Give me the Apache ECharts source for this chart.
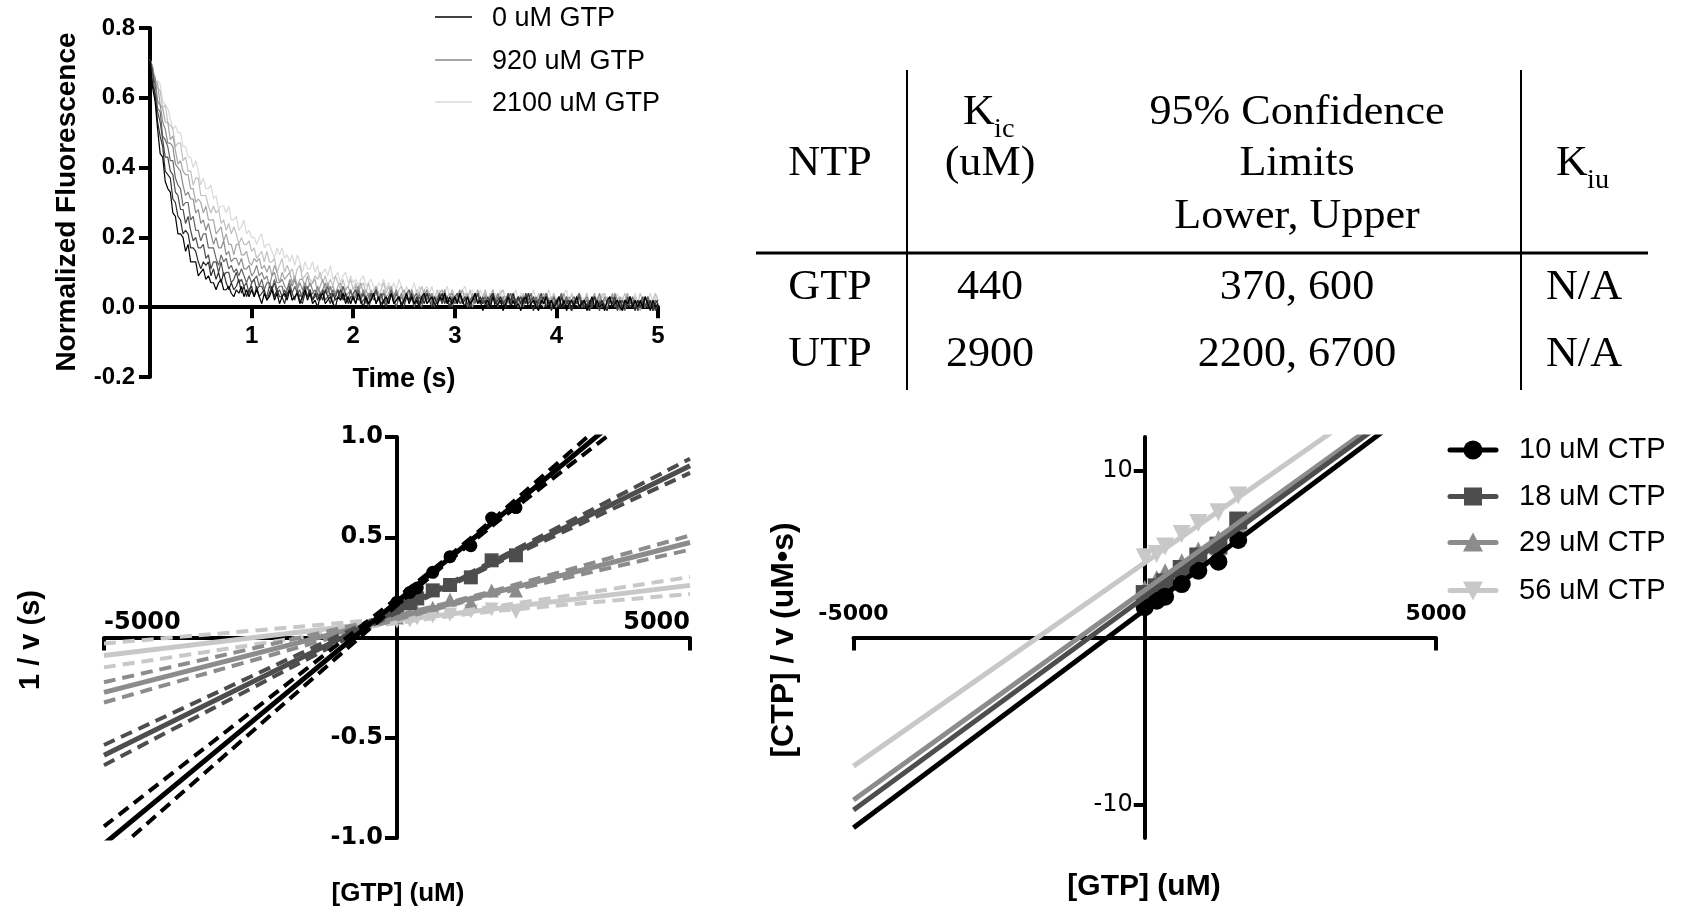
<!DOCTYPE html>
<html>
<head>
<meta charset="utf-8">
<title>GTP inhibition of CTP-dependent fluorescence decay</title>
<script src="https://cdn.jsdelivr.net/npm/echarts@6.0.0/dist/echarts.min.js"></script>
<style>
  html, body { margin: 0; padding: 0; background: #ffffff; }
  #chart { width: 1688px; height: 916px; }
</style>
</head>
<body>
<div id="chart"></div>
<script>
// ---------- Stopped-flow traces (normalized fluorescence, in hundredths), one sample every 0.025 s ----------
const SAMPLE_STEP_S = 0.025;
const traceNames = ['0 uM GTP', '230 uM GTP', '360 uM GTP', '620 uM GTP', '920 uM GTP', '1300 uM GTP', '1660 uM GTP', '2100 uM GTP'];
const trace0uM = [
  71,63,59,51,44,43,36,34,33,27,26,21,21,20,16,18,13,13,13,9,
  10,11,8,9,7,7,5,7,8,5,5,6,4,3,5,4,6,3,5,3,
  5,3,5,3,1,4,2,3,5,2,4,1,3,4,2,5,2,3,4,1,
  3,5,2,4,1,2,0,3,4,1,2,3,1,0,3,2,4,1,3,1,
  3,1,4,2,0,3,1,2,4,1,3,0,2,3,1,4,1,2,3,0,
  2,4,1,3,1,2,0,3,4,1,2,3,1,0,3,2,4,1,3,1,
  3,1,4,2,0,3,1,2,4,1,2,-1,1,2,0,3,0,1,2,-1,
  1,3,0,2,0,1,-1,2,3,0,1,2,0,-1,2,1,3,0,2,0,
  1,3,0,2,-1,1,2,0,3,0,1,2,-1,1,3,0,2,0,1,-1,
  2,3,0,1,2,0,-1,2,1,3,0,2,0,2,0,3,1,-1,2,0, 1];
const trace230uM = [
  71,64,61,53,49,46,39,38,37,31,30,26,25,21,22,21,17,17,16,13,
  11,13,12,13,9,11,8,10,7,10,7,5,7,5,6,8,4,6,3,5,
  6,3,6,3,4,5,2,4,6,3,5,3,3,1,4,5,2,3,4,2,
  1,4,3,5,2,4,2,4,2,5,3,1,4,2,3,5,2,4,1,3,
  3,1,4,1,2,3,0,2,4,1,3,1,2,0,3,4,1,2,3,1,
  0,3,2,4,1,3,1,3,1,4,2,0,3,1,2,4,1,3,0,2,
  3,1,4,1,2,3,0,2,4,1,3,1,2,0,3,4,1,2,3,1,
  0,3,2,4,1,3,1,3,1,4,1,-1,2,0,1,3,0,2,-1,1,
  2,0,3,0,1,2,-1,1,3,0,2,0,1,-1,2,3,0,1,2,0,
  -1,2,1,3,0,2,0,2,0,3,1,-1,2,0,1,3,0,2,-1,1, 2];
const trace360uM = [
  71,68,60,56,53,48,43,43,39,38,33,32,28,28,24,26,22,19,20,17,
  17,18,14,15,11,13,13,10,13,9,10,10,7,8,10,7,8,6,7,4,
  7,8,5,6,6,4,3,6,5,7,4,5,3,5,3,6,4,2,5,3,
  4,6,3,5,2,3,4,2,5,2,3,4,1,3,5,2,4,2,3,1,
  4,5,2,3,4,2,1,4,3,5,2,4,1,3,1,4,2,0,3,1,
  2,4,1,3,0,2,3,1,4,1,2,3,0,2,4,1,3,1,2,0,
  3,4,1,2,3,1,0,3,2,4,1,3,1,3,1,4,2,0,3,1,
  2,4,1,3,0,2,3,1,4,1,2,3,0,2,4,1,3,1,2,0,
  2,3,0,1,2,0,-1,2,1,3,0,2,0,2,0,3,1,-1,2,0,
  1,3,0,2,-1,1,2,0,3,0,1,2,-1,1,3,0,2,0,1,-1, 1];
const trace620uM = [
  71,67,64,57,56,49,48,46,42,42,37,35,34,29,30,30,25,26,22,22,
  19,21,21,17,17,17,14,12,15,13,14,11,12,10,11,9,11,9,7,9,
  7,8,9,6,8,5,7,7,5,8,5,6,6,3,5,7,4,6,4,5,
  2,5,6,3,4,5,3,2,5,4,6,3,5,3,5,3,6,4,2,5,
  2,3,5,2,4,1,3,4,2,5,2,3,4,1,3,5,2,4,2,3,
  1,4,5,2,3,4,1,0,3,2,4,1,3,1,3,1,4,2,0,3,
  1,2,4,1,3,0,2,3,1,4,1,2,3,0,2,4,1,3,1,2,
  0,3,4,1,2,3,1,0,3,2,4,1,3,1,3,1,4,2,0,3,
  1,2,4,1,3,0,2,3,1,4,0,1,2,-1,1,3,0,2,0,1,
  -1,2,3,0,1,2,0,-1,2,1,3,0,2,0,2,0,3,1,-1,2, 1];
const trace920uM = [
  71,67,66,59,58,53,51,47,47,46,41,40,39,35,32,33,31,31,27,28,
  24,25,22,24,21,18,20,17,17,19,15,16,13,14,14,12,14,11,11,12,
  9,10,12,9,10,8,9,6,9,10,7,7,8,6,5,8,6,8,5,7,
  5,7,5,7,5,3,6,4,5,7,4,6,3,4,5,3,6,3,4,5,
  2,4,6,3,5,3,4,2,4,5,2,3,4,2,1,4,3,5,2,4,
  2,4,2,5,3,1,4,2,3,5,2,4,1,3,4,2,5,2,3,4,
  1,3,5,1,3,1,2,0,3,4,1,2,3,1,0,3,2,4,1,3,
  1,3,1,4,2,0,3,1,2,4,1,3,0,2,3,1,4,1,2,3,
  0,2,4,1,3,1,2,0,3,4,1,2,3,1,0,3,2,4,1,3,
  1,3,1,4,2,-1,2,0,1,3,0,2,-1,1,2,0,3,0,1,2, 1];
const trace1300uM = [
  71,69,65,64,58,57,53,53,48,49,45,41,42,39,38,38,34,34,30,31,
  30,27,29,25,25,25,21,22,23,19,21,18,18,15,18,18,15,15,16,13,
  12,14,13,14,11,12,10,12,9,12,10,7,10,8,9,10,7,9,6,8,
  8,6,9,6,7,8,4,6,8,5,7,5,6,4,6,7,4,5,6,4,
  3,6,5,7,4,5,3,5,3,6,4,2,5,3,4,6,3,5,2,4,
  5,2,5,2,3,4,1,3,5,2,4,2,3,1,4,5,2,3,4,2,
  1,4,3,5,2,4,2,4,2,5,3,1,4,2,3,5,2,4,1,3,
  3,1,4,1,2,3,0,2,4,1,3,1,2,0,3,4,1,2,3,1,
  0,3,2,4,1,3,1,3,1,4,2,0,3,1,2,4,1,3,0,2,
  3,1,4,1,2,3,0,2,4,1,2,0,1,-1,2,3,0,1,2,0, 1];
const trace1660uM = [
  71,69,64,63,62,57,58,53,52,51,46,47,47,42,43,39,39,35,37,37,
  32,32,32,29,27,29,27,28,24,25,22,24,21,23,21,18,20,18,18,19,
  16,17,14,15,16,13,16,13,13,14,10,12,14,10,12,10,11,8,11,12,
  8,9,10,8,7,9,8,10,7,9,6,8,6,9,7,5,8,5,6,8,
  5,7,4,6,7,4,7,4,5,6,3,5,7,4,6,4,4,2,5,6,
  3,4,5,3,2,5,4,6,3,5,3,4,2,5,3,1,4,2,3,5,
  2,4,1,3,4,2,5,2,3,4,1,3,5,2,4,2,3,1,4,5,
  2,3,4,2,1,3,2,4,1,3,1,3,1,4,2,0,3,1,2,4,
  1,3,0,2,3,1,4,1,2,3,0,2,4,1,3,1,2,0,3,4,
  1,2,3,1,0,3,2,4,1,3,1,3,1,4,2,0,3,1,2,4, 2];
const trace2100uM = [
  71,69,64,65,64,59,58,57,54,51,52,50,50,46,46,43,43,40,42,39,
  35,37,34,34,35,31,32,28,29,29,27,29,25,25,26,22,23,25,21,22,
  20,20,18,20,21,17,18,18,16,14,17,15,17,14,15,13,15,12,15,13,
  10,13,11,11,13,10,12,8,10,11,9,12,8,9,10,7,9,10,7,9,
  7,8,6,8,9,6,7,8,6,5,7,6,8,5,7,5,7,5,8,6,
  3,6,4,5,7,4,6,3,5,6,4,6,3,4,5,2,4,6,3,5,
  3,4,2,5,6,3,4,5,3,2,5,3,5,2,4,2,4,2,5,3,
  1,4,2,3,5,2,4,1,3,4,2,5,2,3,4,1,3,5,2,4,
  2,3,1,4,5,1,2,3,1,0,3,2,4,1,3,1,3,1,4,2,
  0,3,1,2,4,1,3,0,2,3,1,4,1,2,3,0,2,4,1,3, 2];
const traceValues = [trace0uM, trace230uM, trace360uM, trace620uM, trace920uM, trace1300uM, trace1660uM, trace2100uM];
const traceLegendNames = ['0 uM GTP', '920 uM GTP', '2100 uM GTP'];

// ---------- 1/v vs [GTP] ----------
const ctpNames = ['10 uM CTP', '18 uM CTP', '29 uM CTP', '56 uM CTP'];
const gtpInv = [0, 220, 345, 610, 905, 1260, 1615, 2030];
const invV10 = [0.176, 0.225, 0.247, 0.325, 0.403, 0.458, 0.596, 0.648];
const invV18 = [0.140, 0.170, 0.195, 0.235, 0.262, 0.300, 0.385, 0.410];
const invV29 = [0.100, 0.115, 0.130, 0.148, 0.190, 0.176, 0.235, 0.234];
const invV56 = [0.080, 0.085, 0.095, 0.105, 0.115, 0.130, 0.140, 0.126];
// fitted lines, value at each end of the [GTP] axis
const fitEnds = [-5000, 5000];
const invFit10 = [-1.030, 1.388];
const invFit18 = [-0.587, 0.857];
const invFit29 = [-0.274, 0.474];
const invFit56 = [-0.090, 0.260];
// 95% confidence bands of the fits
const bandGtp = [-5000, -3750, -2500, -1250, 0, 1250, 2500, 3750, 5000];
const invUpper10 = [-0.942, -0.658, -0.374, -0.089, 0.197, 0.494, 0.809, 1.129, 1.450];
const invLower10 = [-1.117, -0.796, -0.476, -0.157, 0.161, 0.468, 0.757, 1.041, 1.327];
const invUpper18 = [-0.536, -0.366, -0.196, -0.025, 0.146, 0.324, 0.512, 0.702, 0.892];
const invLower18 = [-0.637, -0.446, -0.256, -0.065, 0.124, 0.307, 0.480, 0.651, 0.821];
const invUpper29 = [-0.223, -0.140, -0.057, 0.027, 0.111, 0.202, 0.303, 0.406, 0.509];
const invLower29 = [-0.324, -0.220, -0.117, -0.013, 0.089, 0.185, 0.271, 0.355, 0.438];
const invUpper56 = [-0.030, 0.002, 0.033, 0.065, 0.099, 0.139, 0.191, 0.246, 0.302];
const invLower56 = [-0.149, -0.094, -0.038, 0.018, 0.072, 0.118, 0.153, 0.186, 0.217];

// ---------- [CTP]/v vs [GTP] ----------
const gtpCb = [0, 205, 350, 635, 920, 1265, 1605];
const ctpV10 = [1.81, 2.20, 2.44, 3.20, 4.00, 4.54, 5.84];
const ctpV18 = [2.60, 3.00, 3.30, 4.10, 4.85, 5.50, 7.00];
const ctpV29 = [2.90, 3.50, 3.90, 4.50, 5.20, 5.90, 6.70];
const ctpV56 = [4.80, 5.00, 5.45, 6.20, 6.85, 7.50, 8.50];
const cbFit10 = [-11.39, 14.71];
const cbFit18 = [-10.33, 15.17];
const cbFit29 = [-9.72, 15.38];
const cbFit56 = [-7.70, 16.65];

// ---------- Inhibition constants table ----------
const tableHead = ['NTP', '(uM)', 'Limits', 'Lower, Upper', '95% Confidence'];
const tableRows = [
  ['GTP', '440', '370, 600', 'N/A'],
  ['UTP', '2900', '2200, 6700', 'N/A']
];

// ---------- styling ----------
const SANS = "'Liberation Sans', Arial, Helvetica, sans-serif";
const WIDE = "'DejaVu Sans', Verdana, sans-serif";
const SERIF = "'Liberation Serif', 'Times New Roman', serif";
const traceColors = ['#000000', '#2e2e2e', '#4a4a4a', '#666666', '#8a8a8a', '#a6a6a6', '#c0c0c0', '#d9d9d9'];
const ctpColors = ['#000000', '#4d4d4d', '#8c8c8c', '#c8c8c8'];
const ctpSymbols = ['circle', 'rect', 'triangle', 'triangle'];
const ctpRotate = [0, 0, 0, 180];

const pairs = (xs, ys) => xs.map((x, i) => [x, ys[i]]);
const series = [];

// decay traces, lightest first so the darker ones sit on top
for (let k = traceValues.length - 1; k >= 0; k--) {
  series.push({
    name: traceNames[k], type: 'line', xAxisIndex: 0, yAxisIndex: 0,
    data: traceValues[k].map((v, i) => [i * SAMPLE_STEP_S, v / 100]),
    showSymbol: false, symbol: 'none', silent: true,
    lineStyle: { color: traceColors[k], width: 1.2 },
    itemStyle: { color: traceColors[k] }
  });
}

const invPoints = [invV10, invV18, invV29, invV56];
const invFits = [invFit10, invFit18, invFit29, invFit56];
const invUppers = [invUpper10, invUpper18, invUpper29, invUpper56];
const invLowers = [invLower10, invLower18, invLower29, invLower56];
for (let k = 3; k >= 0; k--) {
  const c = ctpColors[k];
  [invUppers[k], invLowers[k]].forEach(b => series.push({
    type: 'line', xAxisIndex: 1, yAxisIndex: 1, data: pairs(bandGtp, b),
    smooth: true, showSymbol: false, symbol: 'none', silent: true,
    lineStyle: { color: c, width: 4, type: [12, 7] }
  }));
  series.push({
    type: 'line', xAxisIndex: 1, yAxisIndex: 1, data: pairs(fitEnds, invFits[k]),
    showSymbol: false, symbol: 'none', silent: true,
    lineStyle: { color: c, width: 5 }
  });
  series.push({
    name: ctpNames[k], type: 'scatter', xAxisIndex: 1, yAxisIndex: 1, data: pairs(gtpInv, invPoints[k]),
    symbol: ctpSymbols[k], symbolRotate: ctpRotate[k], symbolSize: k === 0 ? 13 : 14,
    itemStyle: { color: c, opacity: 1 }, silent: true
  });
}

const cbPoints = [ctpV10, ctpV18, ctpV29, ctpV56];
const cbFits = [cbFit10, cbFit18, cbFit29, cbFit56];
for (let k = 3; k >= 0; k--) {
  const c = ctpColors[k];
  series.push({
    type: 'line', xAxisIndex: 2, yAxisIndex: 2, data: pairs(fitEnds, cbFits[k]),
    showSymbol: false, symbol: 'none', silent: true,
    lineStyle: { color: c, width: 5 }
  });
  series.push({
    name: ctpNames[k], type: 'scatter', xAxisIndex: 2, yAxisIndex: 2, data: pairs(gtpCb, cbPoints[k]),
    symbol: ctpSymbols[k], symbolRotate: ctpRotate[k], symbolSize: 18,
    itemStyle: { color: c, opacity: 1 }, silent: true
  });
}

const axisLine = { onZero: false, lineStyle: { color: '#000', width: 4 } };
const tick = len => ({ length: len, lineStyle: { color: '#000', width: 4 } });
const label = (family, size, weight, margin, extra) => Object.assign({
  color: '#000', fontFamily: family, fontWeight: weight, fontSize: size, margin: margin
}, extra || {});
const hideZero = v => (Math.abs(v) < 1e-9 ? '' : String(v));

// ---------- drawn text / table / legends ----------
const g = [];
const txt = (s, x, y, o) => g.push(Object.assign({
  type: 'text', x: x, y: y,
  style: Object.assign({
    text: s, fill: '#000', fontFamily: SANS, fontSize: 24, fontWeight: 'bold',
    align: 'center', verticalAlign: 'middle', textAlign: 'center', textVerticalAlign: 'middle'
  }, o && o.style)
}, o && o.el));

// axis titles
txt('Normalized Fluorescence', 67, 202, { el: { rotation: Math.PI / 2 }, style: { fontSize: 28 } });
txt('Time (s)', 404, 380, { style: { fontSize: 27 } });
txt('1 / v (s)', 31, 640, { el: { rotation: Math.PI / 2 }, style: { fontSize: 29 } });
txt('[GTP] (uM)', 398, 894, { style: { fontSize: 26 } });
txt('[CTP] / v (uM\u2022s)', 784, 640, { el: { rotation: Math.PI / 2 }, style: { fontSize: 32 } });
txt('[GTP] (uM)', 1144, 887, { style: { fontSize: 30 } });

// trace legend
const tlY = [17, 60, 102];
const tlColors = ['#000000', '#8a8a8a', '#d9d9d9'];
traceLegendNames.forEach((n, i) => {
  g.push({ type: 'line', shape: { x1: 435, y1: tlY[i], x2: 472, y2: tlY[i] }, style: { stroke: tlColors[i], lineWidth: 1.5 } });
  txt(n, 492, tlY[i] + 2, { style: { fontSize: 27, fontWeight: 'normal', align: 'left', textAlign: 'left' } });
});

// CTP legend
const clY = [450, 496.5, 542.5, 590.5];
ctpNames.forEach((n, i) => {
  const c = ctpColors[i], y = clY[i], cx = 1473;
  g.push({ type: 'line', shape: { x1: 1450, y1: y, x2: 1496, y2: y }, style: { stroke: c, lineWidth: 5, lineCap: 'round' } });
  if (i === 0) g.push({ type: 'circle', shape: { cx: cx, cy: y, r: 9.5 }, style: { fill: c } });
  if (i === 1) g.push({ type: 'rect', shape: { x: cx - 9, y: y - 9, width: 18, height: 18 }, style: { fill: c } });
  if (i === 2) g.push({ type: 'polygon', shape: { points: [[cx, y - 10], [cx + 10, y + 9], [cx - 10, y + 9]] }, style: { fill: c } });
  if (i === 3) g.push({ type: 'polygon', shape: { points: [[cx - 10, y - 9], [cx + 10, y - 9], [cx, y + 10]] }, style: { fill: c } });
  txt(n, 1519, y, { style: { fontSize: 29, fontWeight: 'normal', align: 'left', textAlign: 'left' } });
});

// table rules
g.push({ type: 'line', shape: { x1: 907, y1: 70, x2: 907, y2: 390 }, style: { stroke: '#000', lineWidth: 2 } });
g.push({ type: 'line', shape: { x1: 1521, y1: 70, x2: 1521, y2: 390 }, style: { stroke: '#000', lineWidth: 2 } });
g.push({ type: 'line', shape: { x1: 756, y1: 253, x2: 1648, y2: 253 }, style: { stroke: '#000', lineWidth: 3 } });

// table text (serif)
const SX = 1.05;
const serif = (s, x, y, size, align) => txt(s, x, y, {
  el: { scaleX: SX },
  style: { fontFamily: SERIF, fontWeight: 'normal', fontSize: size, align: align || 'center', textAlign: align || 'center' }
});
serif(tableHead[4], 1297, 113, 42);
serif(tableHead[2], 1297, 164, 42);
serif(tableHead[3], 1297, 217, 42);
serif(tableHead[0], 830, 164, 42);
serif('K', 963, 113, 42, 'left');
serif('ic', 994, 130, 27, 'left');
serif(tableHead[1], 990, 164, 42);
serif('K', 1556, 164, 42, 'left');
serif('iu', 1587, 181, 27, 'left');
const colX = [830, 990, 1297, 1584];
const rowY = [288, 355];
tableRows.forEach((row, r) => row.forEach((cell, c) => serif(cell, colX[c], rowY[r], 42)));

const option = {
  animation: false,
  backgroundColor: '#ffffff',
  textStyle: { fontFamily: SANS },
  grid: [
    { left: 150, top: 28, width: 508, height: 349, containLabel: false, outerBoundsMode: 'none' },
    { left: 104, top: 437, width: 586, height: 401, containLabel: false, outerBoundsMode: 'none' },
    { left: 853.5, top: 437, width: 582.5, height: 401, containLabel: false, outerBoundsMode: 'none' }
  ],
  xAxis: [
    { gridIndex: 0, type: 'value', position: 'bottom', offset: -69.8, min: 0, max: 5, interval: 1,
      axisLine: axisLine, axisTick: tick(11),
      axisLabel: label(SANS, 24, 'bold', 17, { formatter: hideZero }), splitLine: { show: false } },
    { gridIndex: 1, type: 'value', position: 'bottom', offset: -200.5, min: -5000, max: 5000, interval: 5000,
      axisLine: axisLine, axisTick: tick(13),
      axisLabel: label(WIDE, 24, 'bold', 3, { inside: true, alignMinLabel: 'left', alignMaxLabel: 'right', formatter: hideZero }),
      splitLine: { show: false } },
    { gridIndex: 2, type: 'value', position: 'bottom', offset: -200.5, min: -5000, max: 5000, interval: 5000,
      axisLine: axisLine, axisTick: tick(13),
      axisLabel: label(WIDE, 22, 'bold', 12, { inside: true, formatter: hideZero }), splitLine: { show: false } }
  ],
  yAxis: [
    { gridIndex: 0, type: 'value', position: 'left', min: -0.2, max: 0.8, interval: 0.2,
      axisLine: axisLine, axisTick: tick(11),
      axisLabel: label(SANS, 24, 'bold', 15, { formatter: v => v.toFixed(1) }), splitLine: { show: false } },
    { gridIndex: 1, type: 'value', position: 'left', offset: -293, min: -1, max: 1, interval: 0.5,
      axisLine: axisLine, axisTick: tick(12),
      axisLabel: label(WIDE, 24, 'bold', 14, { formatter: v => (Math.abs(v) < 1e-9 ? '' : v.toFixed(1)) }),
      splitLine: { show: false } },
    { gridIndex: 2, type: 'value', position: 'left', offset: -291.25, min: -12, max: 12,
      axisLine: axisLine,
      axisTick: Object.assign(tick(11), { customValues: [-10, 10] }),
      axisLabel: label(WIDE, 24, 'normal', 12, { customValues: [-10, 10], formatter: v => String(v) }),
      splitLine: { show: false } }
  ],
  series: series,
  graphic: { elements: g }
};

const chart = echarts.init(document.getElementById('chart'));
chart.setOption(option);
</script>
</body>
</html>
